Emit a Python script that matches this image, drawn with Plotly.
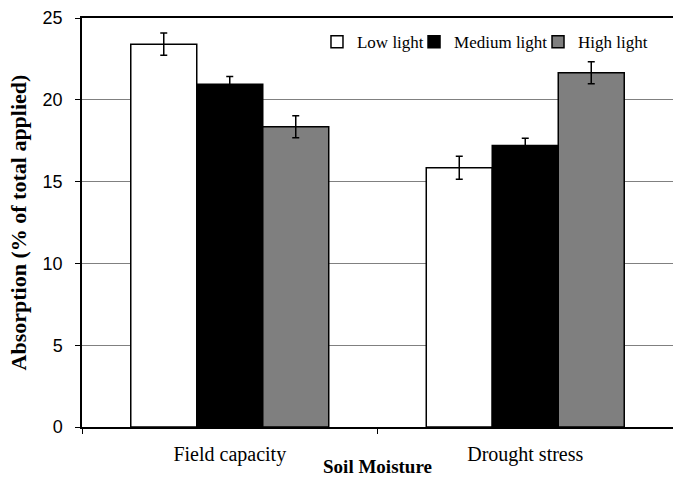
import plotly.graph_objects as go

categories = ["Field capacity", "Drought stress"]
series_names = ["Low light", "Medium light", "High light"]
low_light = [23.4, 15.85]
medium_light = [20.95, 17.2]
high_light = [18.35, 21.65]
low_err = [0.68, 0.7]
medium_err = [0.47, 0.45]
high_err = [0.67, 0.67]
y_ticks = [0, 5, 10, 15, 20, 25]

values = [low_light, medium_light, high_light]
errors = [low_err, medium_err, high_err]
fills = ["#ffffff", "#000000", "#7f7f7f"]
legend_ids = ["legend", "legend2", "legend3"]
legend_x = [0.3976, 0.5618, 0.7716]

serif = "Liberation Serif, Times New Roman, serif"
sans = "Liberation Sans, Arial, sans-serif"

fig = go.Figure()
for name, vals, errs, col, lid in zip(series_names, values, errors, fills, legend_ids):
    fig.add_trace(go.Bar(
        x=categories, y=vals, name=name, legend=lid,
        marker=dict(color=col, line=dict(color="#000000", width=1.5)),
        error_y=dict(type="data", array=errs, visible=True,
                     color="#000000", thickness=1.5, width=3.5),
    ))

legend_common = dict(orientation="h", xanchor="left", y=0.941, yanchor="middle",
                     font=dict(family=serif, size=17, color="#000000"),
                     bgcolor="rgba(0,0,0,0)", itemwidth=30)

fig.update_layout(
    width=673, height=477,
    margin=dict(l=82, r=0, t=18, b=50),
    paper_bgcolor="white", plot_bgcolor="white",
    barmode="group", bargap=0.33, bargroupgap=0,
    showlegend=True,
    legend=dict(x=legend_x[0], **legend_common),
    legend2=dict(x=legend_x[1], **legend_common),
    legend3=dict(x=legend_x[2], **legend_common),
    xaxis=dict(
        range=[-0.5, 1.5], automargin=False,
        showline=True, linecolor="#000000", linewidth=1.5, mirror=True,
        ticks="outside", tickson="boundaries", ticklen=5, tickcolor="#000000",
        showgrid=False, ticklabelstandoff=8,
        tickfont=dict(family=serif, size=20, color="#000000"),
        title=dict(text="<b>Soil Moisture</b>", font=dict(family=serif, size=19, color="#000000"), standoff=2),
    ),
    yaxis=dict(
        range=[0, 25], tickvals=y_ticks, automargin=False,
        showline=True, linecolor="#000000", linewidth=1.5,
        ticks="outside", ticklen=5, tickcolor="#000000",
        showgrid=True, gridcolor="#808080", gridwidth=1,
        zeroline=False, ticklabelstandoff=9,
        tickfont=dict(family=sans, size=18, color="#000000"),
        title=dict(text="<b>Absorption (% of total applied)</b>", font=dict(family=serif, size=22, color="#000000"), standoff=10),
    ),
)

fig.write_html("out.html")
